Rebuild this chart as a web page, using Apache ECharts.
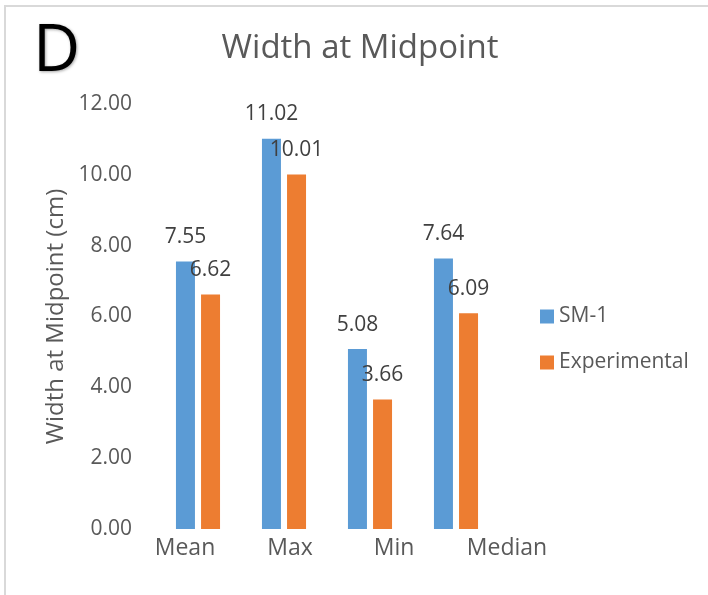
<!DOCTYPE html>
<html><head><meta charset="utf-8">
<script src="https://cdn.jsdelivr.net/npm/echarts@6/dist/echarts.min.js"></script>
<style>
html,body{margin:0;padding:0;background:#fff;}
#frame{position:absolute;left:4px;top:5px;width:720px;height:610px;border-left:2px solid #d9d9d9;border-top:2px solid #d9d9d9;}
#chart{position:absolute;left:0;top:0;width:708px;height:595px;}
</style></head>
<body>
<div id="frame"></div>
<div id="chart"></div>
<script>
const categories = ['Mean', 'Max', 'Min', 'Median'];
const sm1 = [7.55, 11.02, 5.08, 7.64];
const experimental = [6.62, 10.01, 3.66, 6.09];
const yTicks = [0, 2, 4, 6, 8, 10, 12];

const labelShift = [-13, 6, 24, 51];
const rich = {};
categories.forEach((c, i) => {
  const s = labelShift[i];
  rich['c' + i] = {
    fontFamily: 'Open Sans', fontSize: 23, color: '#595959',
    padding: s >= 0 ? [0, 0, 0, 2 * s] : [0, -2 * s, 0, 0]
  };
});

const chart = echarts.init(document.getElementById('chart'));
const font = 'Open Sans';
const dataLabel = { show: true, position: 'top', distance: 14, formatter: p => p.value.toFixed(2), fontFamily: font, fontSize: 21, color: '#404040' };
chart.setOption({
  animation: false,
  title: [
    { text: 'D', left: 28, top: 15, textStyle: { fontFamily: font, fontSize: 65, fontWeight: 'normal', color: '#000', textShadowColor: 'rgba(0,0,0,0.35)', textShadowBlur: 3, textShadowOffsetX: 1, textShadowOffsetY: 1 } },
    { text: 'Width at Midpoint', left: 355, textAlign: 'center', top: 27, textStyle: { fontFamily: font, fontSize: 33, fontWeight: 'normal', color: '#595959' } }
  ],
  legend: {
    orient: 'vertical', left: 540, top: 306, padding: 0, itemWidth: 14, itemHeight: 14, itemGap: 25,
    icon: 'rect',
    textStyle: { fontFamily: font, fontSize: 21, color: '#595959' },
    data: ['SM-1', 'Experimental']
  },
  grid: { left: 155, right: 209, top: 104, bottom: 66, containLabel: false },
  xAxis: {
    type: 'category', data: categories,
    axisLine: { show: false }, axisTick: { show: false },
    axisLabel: {
      margin: 8, interval: 0,
      formatter: (v, i) => '{c' + i + '|' + v + '}',
      rich: rich
    }
  },
  yAxis: {
    type: 'value', min: yTicks[0], max: yTicks[yTicks.length - 1], interval: 2,
    name: 'Width at Midpoint (cm)', nameLocation: 'middle', nameGap: 87, nameRotate: 90,
    nameTextStyle: { fontFamily: font, fontSize: 24, color: '#595959' },
    splitLine: { show: false }, axisLine: { show: false }, axisTick: { show: false },
    axisLabel: { formatter: v => v.toFixed(2), fontFamily: font, fontSize: 21, color: '#595959', margin: 23 }
  },
  series: [
    { name: 'SM-1', type: 'bar', data: sm1, barWidth: 19, barGap: '32%', barCategoryGap: '49%',
      itemStyle: { color: '#5B9BD5' }, label: dataLabel },
    { name: 'Experimental', type: 'bar', data: experimental, barWidth: 19,
      itemStyle: { color: '#ED7D31' }, label: dataLabel }
  ]
});
</script>
</body></html>
